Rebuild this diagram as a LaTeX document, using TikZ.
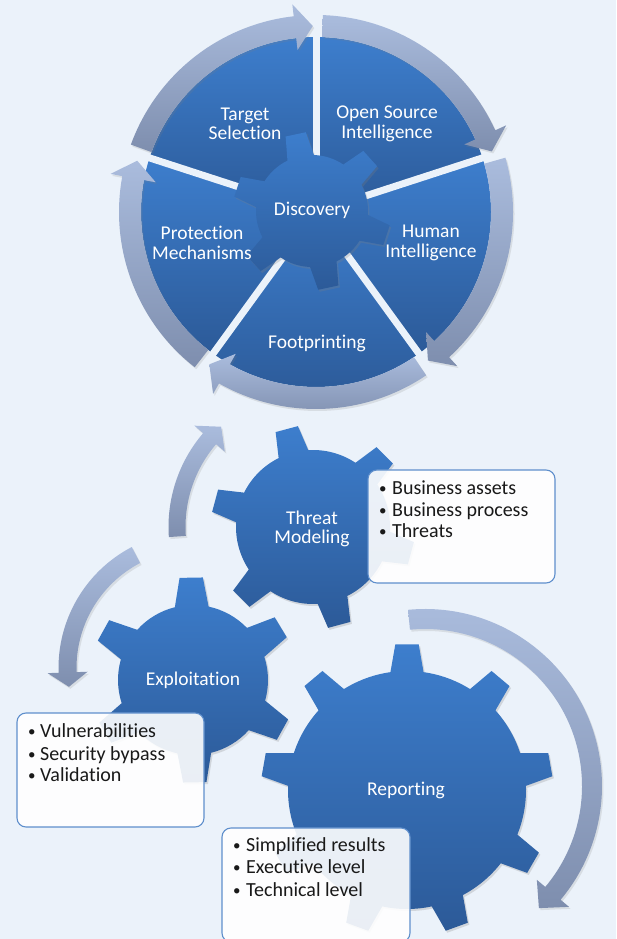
\documentclass[tikz,border=0pt]{standalone}
\usepackage{fontspec}
\setmainfont{Carlito}[Ligatures=NoCommon]
\usetikzlibrary{shadows}
\definecolor{bgblue}{HTML}{EBF2FA}
\definecolor{ringlight}{HTML}{AABCDD}
\definecolor{ringdark}{HTML}{7E8EAE}
\definecolor{gearlight}{HTML}{3D7ECD}
\definecolor{geardark}{HTML}{2C5A98}
\definecolor{boxline}{HTML}{5F8FCC}
% gear: style, teeth, offset, body radius, tip radius, base half angle, tip half angle
\newcommand{\gear}[7]{%
  \pgfmathsetmacro{\gstep}{360/#2}
  \path[#1] ({#3-#6}:#4)
    \foreach \k in {1,...,#2}{
      -- ({#3+(\k-1)*\gstep-#7}:#5) -- ({#3+(\k-1)*\gstep+#7}:#5) -- ({#3+(\k-1)*\gstep+#6}:#4)
      arc[start angle={#3+(\k-1)*\gstep+#6}, end angle={#3+\k*\gstep-#6}, radius=#4]
    } -- cycle;
}
% bent arrow: style, radius, half width, start, head base, tip, head half width
\newcommand{\bentarrow}[7]{%
  \path[#1] ({#4}:{#2+#3}) arc[start angle={#4}, end angle={#5}, radius={#2+#3}]
    -- ({#5}:{#2+#7}) -- ({#6}:{#2}) -- ({#5}:{#2-#7}) -- ({#5}:{#2-#3})
    arc[start angle={#5}, end angle={#4}, radius={#2-#3}] -- cycle;
}
\newcommand{\dotitem}[1][13pt]{\makebox[#1][l]{\raisebox{1pt}{\fontsize{15}{15}\selectfont\textbullet}}}
\begin{document}
\begin{tikzpicture}[x=1pt,y=1pt,
  sector/.style={top color=gearlight, bottom color=geardark},
  gearfill/.style={top color=gearlight, bottom color=geardark,
    drop shadow={opacity=0.25, shadow xshift=1.5pt, shadow yshift=-2pt}},
  ringfill/.style={top color=ringlight, bottom color=ringdark,
    drop shadow={opacity=0.18, shadow xshift=1.5pt, shadow yshift=-2pt}},
  infobox/.style={draw=boxline, line width=1.1pt, fill=white, fill opacity=0.9, rounded corners=9pt},
  gearlabel/.style={text=white, align=center, inner sep=0pt, font=\fontsize{19.5}{19.5}\selectfont},
  itemtext/.style={anchor=base west, inner sep=0pt, text=black!90, font=\fontsize{20}{22}\selectfont}]
	\useasboundingbox (0,0) rectangle (616,939);
	\fill[bgblue] (0,0) rectangle (616,939);
	%Discovery wheel
	\begin{scope}[shift={(316,727)}]
		\foreach \a/\b in {90/162, 18/90, -54/18, -126/-54, 162/234}
			\path[sector] (0,0) -- (\a:175) arc[start angle=\a, end angle=\b, radius=175] -- cycle;
		\foreach \g in {18,90,162,234,306}
			\draw[bgblue, line width=7pt] (0,0) -- (\g:178);
		\bentarrow{ringfill}{186}{11}{160}{96.5}{91}{23}
		\bentarrow{ringfill}{186}{11}{88}{24.5}{19}{23}
		\bentarrow{ringfill}{186}{11}{16}{-47.5}{-53}{23}
		\bentarrow{ringfill}{186}{11}{-56}{-119.5}{-125}{23}
		\bentarrow{ringfill}{186}{11}{-128}{-190.5}{-196}{23}
	\end{scope}
	\begin{scope}[shift={(312,728)}]
		\gear{gearfill}{6}{102}{56}{79}{14}{7.5}
	\end{scope}
	%Curved arrows
	\begin{scope}[shift={(313,412)}]
		\bentarrow{ringfill}{136}{8.5}{184}{139.5}{132.5}{20}
	\end{scope}
	\begin{scope}[shift={(195,271)}]
		\bentarrow{ringfill}{127.5}{9}{117.6}{182}{188.5}{20}
	\end{scope}
	\begin{scope}[shift={(425,153)}]
		\bentarrow{ringfill}{167}{10}{95.5}{-40}{-47}{21}
	\end{scope}
	%Gears
	\begin{scope}[shift={(313,412)}]
		\gear{gearfill}{6}{105}{77}{102}{11.5}{6.5}
	\end{scope}
	\begin{scope}[shift={(193,259)}]
		\gear{gearfill}{6}{91}{75}{103}{13}{6.5}
	\end{scope}
	\begin{scope}[shift={(407,149)}]
		\gear{gearfill}{9}{90}{119}{146}{8}{4.6}
	\end{scope}
	%Boxes
	\path[infobox] (368,469) rectangle (555,356);
	\path[infobox] (17,226) rectangle (204,112);
	\path[infobox] (222,111) rectangle (410,-3);
	%Labels
	\node[gearlabel] (target) at (245,815) {Target\\Selection};
	\node[gearlabel] (osint) at (387,815) {Open Source\\Intelligence};
	\node[gearlabel] (humint) at (431,696) {Human\\Intelligence};
	\node[gearlabel] (foot) at (317,596) {Footprinting};
	\node[gearlabel] (protect) at (202,696) {Protection\\Mechanisms};
	\node[gearlabel] (disc) at (312,729) {Discovery};
	\node[gearlabel] (threat) at (312,410) {Threat\\Modeling};
	\node[gearlabel] (exploit) at (193,259) {Exploitation};
	\node[gearlabel] (report) at (406,149) {Reporting};
	%Items
	\node[itemtext] (t1) at (379,444) {\dotitem Business assets};
	\node[itemtext] (t2) at (379,422) {\dotitem Business process};
	\node[itemtext] (t3) at (379,401) {\dotitem Threats};
	\node[itemtext] (e1) at (28,201) {\dotitem[12pt]Vulnerabilities};
	\node[itemtext] (e2) at (28,178) {\dotitem[12pt]Security bypass};
	\node[itemtext] (e3) at (28,157) {\dotitem[12pt]Validation};
	\node[itemtext] (r1) at (233,87) {\dotitem Simplified results};
	\node[itemtext] (r2) at (233,65) {\dotitem Executive level};
	\node[itemtext] (r3) at (233,42) {\dotitem Technical level};
\end{tikzpicture}
\end{document}
